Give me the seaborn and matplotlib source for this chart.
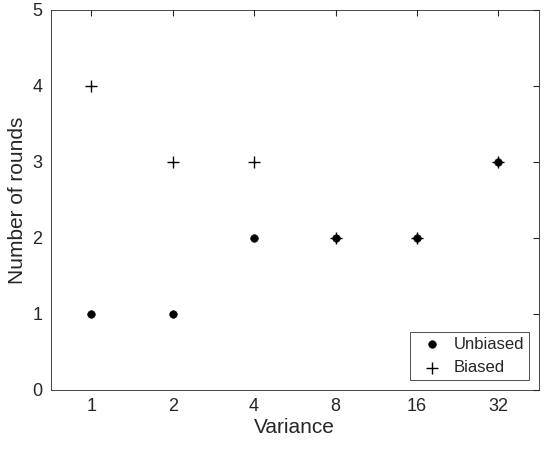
import pandas as pd
import matplotlib
matplotlib.use("Agg")
import matplotlib.pyplot as plt
import seaborn as sns

variance = ["1", "2", "4", "8", "16", "32"]
unbiased = [1, 1, 2, 2, 2, 3]
biased = [4, 3, 3, 2, 2, 3]

sns.set_style("white")
plt.rcParams['font.family'] = ['Liberation Sans', 'DejaVu Sans']

df = pd.DataFrame({"pos": range(1, len(variance) + 1),
                   "Unbiased": unbiased, "Biased": biased})

fig = plt.figure(figsize=(5.5, 4.54), dpi=100)
ax = fig.add_axes([0.092, 0.141, 0.888, 0.837])

sns.scatterplot(data=df, x="pos", y="Unbiased", ax=ax, marker="o", s=30,
                color="black", edgecolor="black", label="Unbiased")
sns.scatterplot(data=df, x="pos", y="Biased", ax=ax, marker="+", s=70,
                color="black", linewidth=1, label="Biased")

ax.set_xlim(0.5, 6.5)
ax.set_ylim(0, 5)
ax.set_xticks(df["pos"])
ax.set_xticklabels(variance)
ax.set_yticks(range(0, 6))
ax.tick_params(direction="in", labelsize=13, length=4, top=True, right=True,
               colors="#262626", pad=6)
ax.set_xlabel("Variance", fontsize=15, color="#262626", labelpad=2)
ax.set_ylabel("Number of rounds", fontsize=15, color="#262626", labelpad=4)
for sp in ax.spines.values():
    sp.set_color("#262626")
    sp.set_linewidth(0.6)

leg = ax.legend(loc="lower right", fontsize=12, frameon=True, fancybox=False,
                edgecolor="black", borderpad=0.3, handletextpad=0.3,
                borderaxespad=0.6)
leg.get_frame().set_linewidth(0.6)

fig.savefig("out.png", dpi=100)
